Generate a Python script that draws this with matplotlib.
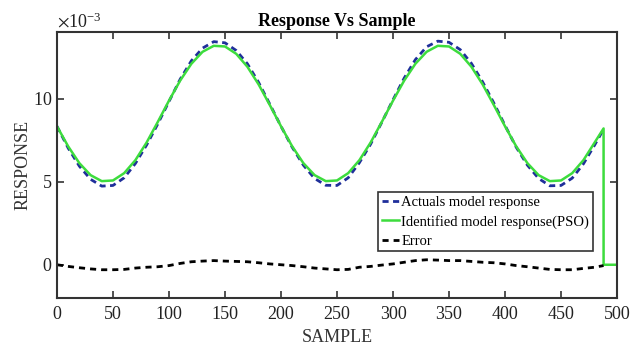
import matplotlib
matplotlib.use("Agg")
import matplotlib.pyplot as plt
import numpy as np

plt.rcParams["font.family"] = ["Liberation Serif", "DejaVu Serif"]
plt.rcParams["mathtext.fontset"] = "stix"

# Sample index of each stored point
samples = [0, 10, 20, 30, 40, 50, 60, 70, 80, 90,
           100, 110, 120, 130, 140, 150, 160, 170, 180, 190,
           200, 210, 220, 230, 240, 250, 260, 270, 280, 290,
           300, 310, 320, 330, 340, 350, 360, 370, 380, 390,
           400, 410, 420, 430, 440, 450, 460, 470, 480, 488]

# Responses in units of 1e-3
actual_e3 = [8.33, 7.02, 5.93, 5.14, 4.73, 4.77, 5.23, 6.09, 7.20, 8.47,
             9.82, 11.16, 12.27, 13.03, 13.42, 13.35, 12.89, 12.09, 10.97, 9.66,
             8.33, 7.07, 5.99, 5.19, 4.78, 4.77, 5.23, 6.14, 7.25, 8.57,
             9.92, 11.23, 12.34, 13.11, 13.45, 13.38, 12.94, 12.11, 11.00, 9.73,
             8.38, 7.07, 5.99, 5.19, 4.75, 4.77, 5.21, 6.07, 7.20, 8.15]

identified_e3 = [8.33, 7.12, 6.11, 5.39, 5.03, 5.07, 5.51, 6.29, 7.35, 8.59,
                 9.87, 11.08, 12.09, 12.81, 13.17, 13.13, 12.69, 11.91, 10.85, 9.61,
                 8.33, 7.12, 6.11, 5.39, 5.03, 5.07, 5.51, 6.29, 7.35, 8.59,
                 9.87, 11.08, 12.09, 12.81, 13.17, 13.13, 12.69, 11.91, 10.85, 9.61,
                 8.33, 7.12, 6.11, 5.39, 5.03, 5.07, 5.51, 6.29, 7.35, 8.20]

error_e3 = [0.00, -0.10, -0.18, -0.25, -0.30, -0.30, -0.28, -0.20, -0.15, -0.12,
            -0.05, 0.08, 0.18, 0.22, 0.25, 0.22, 0.20, 0.18, 0.12, 0.05,
            0.00, -0.05, -0.12, -0.20, -0.25, -0.30, -0.28, -0.15, -0.10, -0.02,
            0.05, 0.15, 0.25, 0.30, 0.28, 0.25, 0.25, 0.20, 0.15, 0.12,
            0.05, -0.05, -0.12, -0.20, -0.28, -0.30, -0.30, -0.22, -0.15, -0.05]

# Identified output drops to zero after the last sample
tail_samples = [488, 500]
tail_e3 = [0.0, 0.0]

x = np.array(samples)
scale = 1e-3

fig = plt.figure(figsize=(6.43, 3.58), dpi=100)
ax = fig.add_axes([0.0886, 0.1676, 0.871, 0.743])

ax.plot(x, np.array(actual_e3) * scale, linestyle=(0, (2.2, 1.6)), color="#1f2f9a",
        linewidth=2.0, label="Actuals model response")
ident_x = np.concatenate([x, tail_samples])
ident_y = np.concatenate([identified_e3, tail_e3]) * scale
ax.plot(ident_x, ident_y, color="#3ddc3d", linewidth=1.8,
        label="Identified model response(PSO)")
ax.plot(x, np.array(error_e3) * scale, linestyle=(0, (2.2, 1.8)), color="black",
        linewidth=2.0, label="Error")

ax.set_xlim(0, 500)
ax.set_ylim(-0.002, 0.014)
ax.set_xticks(np.arange(0, 501, 50))
ax.set_yticks([0, 0.005, 0.010])

ax.ticklabel_format(axis="y", style="sci", scilimits=(-3, -3), useMathText=True)
ax.yaxis.get_offset_text().set_fontsize(13)
ax.yaxis.get_offset_text().set_color("#333333")

ax.tick_params(direction="in", top=True, right=True, length=5, width=1.2,
               labelsize=13, colors="#333333", labelcolor="#222222")
ax.tick_params(axis="x", pad=6)
for s in ax.spines.values():
    s.set_linewidth(1.5)
    s.set_color("#333333")

ax.set_title("Response Vs Sample", fontsize=13, fontweight="bold", pad=4)
ax.set_xlabel("SAMPLE", fontsize=13, labelpad=4, color="#333333")
ax.set_ylabel("RESPONSE", fontsize=13, labelpad=1, color="#333333")

leg = ax.legend(loc="upper left", bbox_to_anchor=(0.573, 0.398), borderaxespad=0,
                fontsize=10.5, handlelength=1.2, handletextpad=0.15,
                labelspacing=0.4, borderpad=0.25, fancybox=False,
                framealpha=1, edgecolor="#333333")
leg.get_frame().set_linewidth(1.2)

fig.savefig("out.png", dpi=100)
